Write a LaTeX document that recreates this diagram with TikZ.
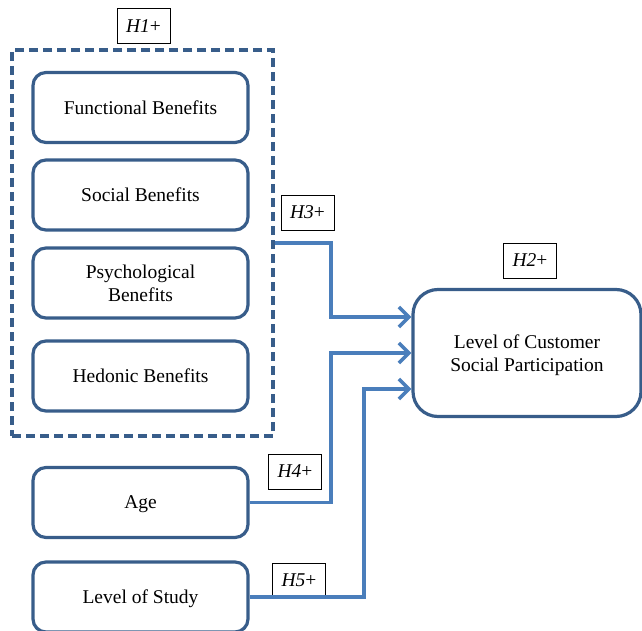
\documentclass[tikz,border=0pt]{standalone}
\usepackage{fontspec}
\setmainfont{Liberation Serif}
\usetikzlibrary{arrows.meta}
\definecolor{boxblue}{RGB}{56,93,138}
\definecolor{arrowblue}{RGB}{74,126,187}
\tikzset{
  factor/.style={draw=boxblue, line width=3.2pt, rounded corners=13pt, minimum width=215pt, minimum height=70pt, align=center, text depth=-3pt},
  hyp/.style={draw=black, line width=0.7pt, minimum width=53pt, minimum height=35pt, inner sep=0pt},
  link/.style={draw=arrowblue, line width=3.6pt, -{Straight Barb[length=10pt,width=20pt]}}
}
\begin{document}
\begin{tikzpicture}[x=1pt, y=-1pt, font=\fontsize{19.5}{23}\selectfont]
        \useasboundingbox (0,0) rectangle (642,631);
        \node [draw=boxblue, line width=3.2pt, dash pattern=on 9pt off 5pt, minimum width=261pt, minimum height=386pt] (group) at (142.5,243) {};
        \node [factor] (functional) at (140.5,107.5) {Functional Benefits};
        \node [factor] (social) at (140.5,195) {Social Benefits};
        \node [factor] (psych) at (140.5,283) {Psychological\\Benefits};
        \node [factor] (hedonic) at (140.5,376) {Hedonic Benefits};
        \node [factor] (age) at (140.5,502.5) {Age};
        \node [factor] (study) at (140.5,597) {Level of Study};
        \node [factor, rounded corners=25pt, minimum width=228pt, minimum height=127pt] (participation) at (527,353) {Level of Customer\\Social Participation};

        \node [hyp] (h1) at (143.5,26) {\textit{H1}+};
        \node [hyp] (h2) at (530,260.5) {\textit{H2}+};
        \node [hyp] (h3) at (307.5,212.5) {\textit{H3}+};
        \node [hyp] (h4) at (295,471.5) {\textit{H4}+};
        \node [hyp] (h5) at (299,580.5) {\textit{H5}+};

        \draw [link] (group.east) -| (331,317) -- ([yshift=36pt]participation.west);
        \draw [link] (age.east) -| (331,353) -- (participation.west);
        \draw [link] (study.east) -| (364,389) -- ([yshift=-36pt]participation.west);
\end{tikzpicture}
\end{document}
